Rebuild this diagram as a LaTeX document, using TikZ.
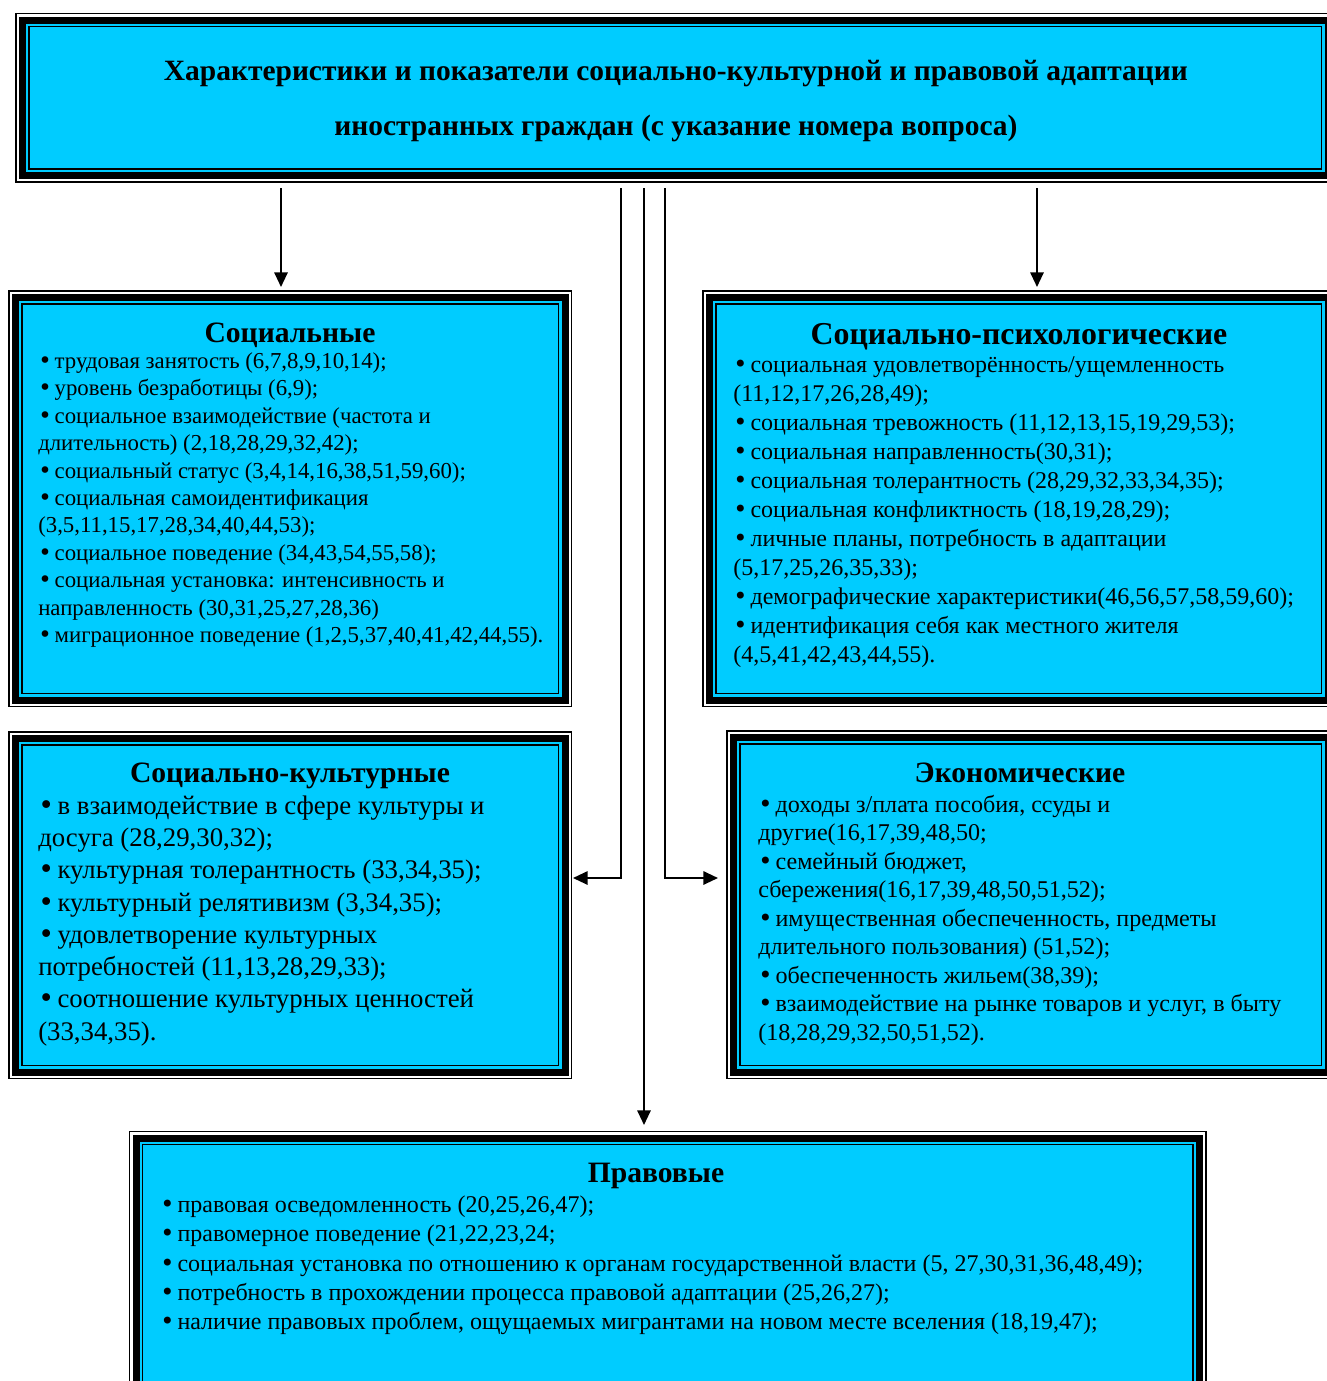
\documentclass[tikz,border=0pt]{standalone}
\usepackage{fontspec}
\setmainfont{Liberation Serif}
\newfontfamily\bulfont{DejaVu Sans}
\usetikzlibrary{arrows.meta}
\definecolor{boxcyan}{HTML}{00CCFF}

% thin outer and inner lines round a framed box
\newcommand{\rims}[1]{%
  \draw[rim] ([shift={(-6.5,-6.5)}]#1.north west) rectangle ([shift={(6.5,6.5)}]#1.south east);
  \draw[rim] ([shift={(6.5,6.5)}]#1.north west) rectangle ([shift={(-6.5,-6.5)}]#1.south east);
}
% list bullet, a bit larger than the serif font's own
\newcommand{\bul}{{\bulfont •}\kern-0.12em}

\begin{document}
\begin{tikzpicture}[
    x=0.75pt, y=-0.75pt,
    framebox/.style={draw=black, line width=5.25pt, fill=boxcyan, outer sep=0pt, inner sep=0pt},
    rim/.style={draw=black, line width=1.1pt},
    head/.style={anchor=base, inner sep=0pt, font=\fontsize{22.2pt}{26pt}\selectfont\bfseries},
    body/.style={anchor=north west, inner sep=0pt, align=left},
    link/.style={line width=1.5pt},
    arr/.style={link, -{Triangle[length=11pt, width=10pt]}}
  ]
  \useasboundingbox (0,0) rectangle (1327,1381);

  % boxes
  \node[framebox, minimum width=1305.5*0.75pt, minimum height=155.5*0.75pt] (top) at (675.25,97.75) {};
  \node[framebox, minimum width=549.5*0.75pt, minimum height=402.5*0.75pt] (soc) at (290.25,498.75) {};
  \node[framebox, minimum width=618.5*0.75pt, minimum height=402.5*0.75pt] (psy) at (1018.75,498.75) {};
  \node[framebox, minimum width=549.5*0.75pt, minimum height=333.5*0.75pt] (cult) at (290.25,905.25) {};
  \node[framebox, minimum width=594.5*0.75pt, minimum height=334.5*0.75pt] (econ) at (1030.75,904.75) {};
  \node[framebox, minimum width=1063.5*0.75pt, minimum height=257*0.75pt] (law) at (667.75,1266.5) {};
  \rims{top} \rims{soc} \rims{psy} \rims{cult} \rims{econ} \rims{law}

  % title
  \node[anchor=base, inner sep=0pt, font=\fontsize{22.1pt}{26pt}\selectfont\bfseries] (title1) at (676,80)
    {Характеристики и показатели социально-культурной и правовой адаптации};
  \node[anchor=base, inner sep=0pt, font=\fontsize{22.1pt}{26pt}\selectfont\bfseries] (title2) at (676,135)
    {иностранных граждан (с указание номера вопроса)};

  % headings
  \node[head] (sochead) at (290,342) {Социальные};
  \node[head, font=\fontsize{23.9pt}{28pt}\selectfont\bfseries] (psyhead) at (1019,344) {Социально-психологические};
  \node[head] (culthead) at (290,782) {Социально-культурные};
  \node[head] (econhead) at (1020,782) {Экономические};
  \node[head] (lawhead) at (656,1182) {Правовые};

  % lists
  \node[body, font=\fontsize{17.1pt}{20.55pt}\selectfont] (soctext) at (38,352.4)
    {\bul{} трудовая занятость (6,7,8,9,10,14);\\
     \bul{} уровень безработицы (6,9);\\
     \bul{} социальное взаимодействие (частота и\\
     длительность) (2,18,28,29,32,42);\\
     \bul{} социальный статус (3,4,14,16,38,51,59,60);\\
     \bul{} социальная самоидентификация\\
     (3,5,11,15,17,28,34,40,44,53);\\
     \bul{} социальное поведение (34,43,54,55,58);\\
     \bul{} социальная установка: интенсивность и\\
     направленность (30,31,25,27,28,36)\\
     \bul{} миграционное поведение (1,2,5,37,40,41,42,44,55).};
  \node[body, font=\fontsize{18pt}{21.75pt}\selectfont] (psytext) at (733,356.5)
    {\bul{} социальная удовлетворённость/ущемленность\\
     (11,12,17,26,28,49);\\
     \bul{} социальная тревожность (11,12,13,15,19,29,53);\\
     \bul{} социальная направленность(30,31);\\
     \bul{} социальная толерантность (28,29,32,33,34,35);\\
     \bul{} социальная конфликтность (18,19,28,29);\\
     \bul{} личные планы, потребность в адаптации\\
     (5,17,25,26,35,33);\\
     \bul{} демографические характеристики(46,56,57,58,59,60);\\
     \bul{} идентификация себя как местного жителя\\
     (4,5,41,42,43,44,55).};
  \node[body, font=\fontsize{20.1pt}{24.2pt}\selectfont] (culttext) at (38,795.5)
    {\bul{} в взаимодействие в сфере культуры и\\
     досуга (28,29,30,32);\\
     \bul{} культурная толерантность (33,34,35);\\
     \bul{} культурный релятивизм (3,34,35);\\
     \bul{} удовлетворение культурных\\
     потребностей (11,13,28,29,33);\\
     \bul{} соотношение культурных ценностей\\
     (33,34,35).};
  \node[body, font=\fontsize{18.05pt}{21.4pt}\selectfont] (econtext) at (758,794.5)
    {\bul{} доходы з/плата пособия, ссуды и\\
     другие(16,17,39,48,50;\\
     \bul{} семейный бюджет,\\
     сбережения(16,17,39,48,50,51,52);\\
     \bul{} имущественная обеспеченность, предметы\\
     длительного пользования) (51,52);\\
     \bul{} обеспеченность жильем(38,39);\\
     \bul{} взаимодействие на рынке товаров и услуг, в быту\\
     (18,28,29,32,50,51,52).};
  \node[body, font=\fontsize{18pt}{22pt}\selectfont] (lawtext) at (160,1195.4)
    {\bul{} правовая осведомленность (20,25,26,47);\\
     \bul{} правомерное поведение (21,22,23,24;\\
     \bul{} социальная установка по отношению к органам государственной власти (5, 27,30,31,36,48,49);\\
     \bul{} потребность в прохождении процесса правовой адаптации (25,26,27);\\
     \bul{} наличие правовых проблем, ощущаемых мигрантами на новом месте вселения (18,19,47);};

  % connectors
  \coordinate (s1) at (281,188);
  \coordinate (s2) at (1037,188);
  \coordinate (s3) at (621,188);
  \coordinate (s4) at (644,188);
  \coordinate (s5) at (665,188);
  \coordinate (e1) at (281,287);
  \coordinate (e2) at (1037,287);
  \coordinate (e3) at (573,878);
  \coordinate (e4) at (644,1125);
  \coordinate (e5) at (718,878);
  \draw[arr] (s1) -- (e1);
  \draw[arr] (s2) -- (e2);
  \draw[arr] (s3) |- (e3);
  \draw[arr] (s4) -- (e4);
  \draw[arr] (s5) |- (e5);
\end{tikzpicture}
\end{document}
